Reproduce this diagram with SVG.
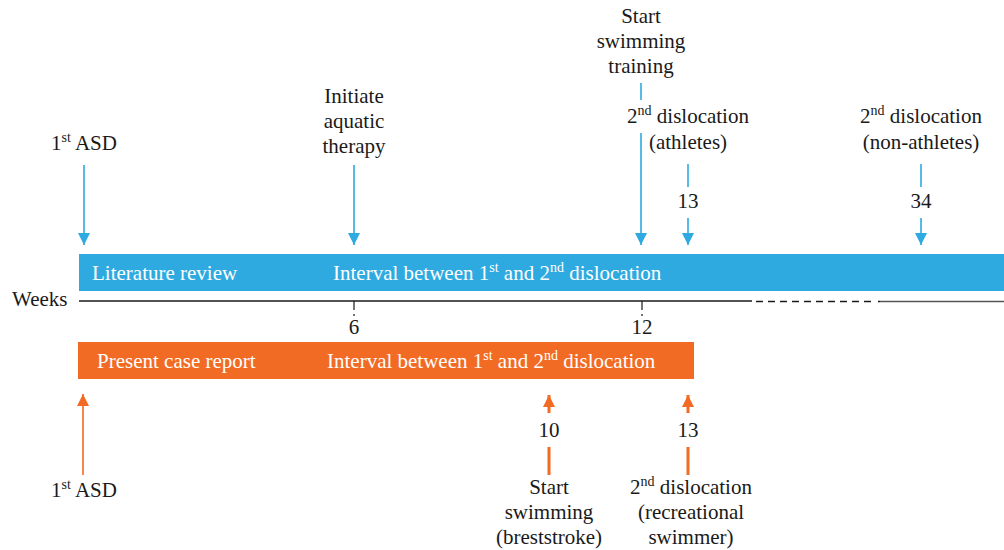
<svg xmlns="http://www.w3.org/2000/svg" width="1004" height="550" viewBox="0 0 1004 550">
<style>
text{font-family:"Liberation Serif","Times New Roman",serif;font-size:21px;fill:#1a1a1a}
.c{text-anchor:middle}
.w{fill:#ffffff}
.sup{font-size:14px}
.bl{stroke:#2eaae0;stroke-width:1.6;fill:none}
.or{stroke:#f26b24;stroke-width:1.6;fill:none}
.orT{stroke:#f26b24;stroke-width:3;fill:none}
</style>
<defs>
<marker id="ab" markerUnits="userSpaceOnUse" markerWidth="14" markerHeight="12" refX="12" refY="6" orient="auto" viewBox="0 0 14 12">
<path d="M0,0 L12,6 L0,12 z" fill="#2eaae0"/>
</marker>
<marker id="ao" markerUnits="userSpaceOnUse" markerWidth="14" markerHeight="12" refX="12" refY="6" orient="auto" viewBox="0 0 14 12">
<path d="M0,0 L12,6 L0,12 z" fill="#f26b24"/>
</marker>
</defs>

<g id="bar-literature">
<rect x="79" y="254" width="925" height="37" fill="#2eaae0"/>
<text x="92" y="280" class="w">Literature review</text>
<text x="333" y="280" class="w">Interval between 1<tspan class="sup" dy="-8">st</tspan><tspan dy="8"> and 2</tspan><tspan class="sup" dy="-8">nd</tspan><tspan dy="8"> dislocation</tspan></text>
</g>

<g id="bar-case">
<rect x="78" y="342" width="616" height="37" fill="#f26b24"/>
<text x="97" y="368" class="w">Present case report</text>
<text x="327" y="368" class="w">Interval between 1<tspan class="sup" dy="-8">st</tspan><tspan dy="8"> and 2</tspan><tspan class="sup" dy="-8">nd</tspan><tspan dy="8"> dislocation</tspan></text>
</g>

<g id="axis">
<text x="12" y="306">Weeks</text>
<line x1="79" y1="301" x2="752" y2="301" stroke="#1a1a1a" stroke-width="1.5"/>
<line x1="756" y1="301.5" x2="874" y2="301.5" stroke="#1a1a1a" stroke-width="1.5" stroke-dasharray="7,5"/>
<line x1="878" y1="301.5" x2="880" y2="301.5" stroke="#1a1a1a" stroke-width="1.5"/>
<line x1="880" y1="301.5" x2="1004" y2="301.5" stroke="#555" stroke-width="1.5"/>
<line x1="354" y1="301" x2="354" y2="310" stroke="#1a1a1a" stroke-width="1.2"/>
<line x1="354" y1="314" x2="354" y2="316" stroke="#1a1a1a" stroke-width="1.2"/>
<line x1="642" y1="301" x2="642" y2="310" stroke="#1a1a1a" stroke-width="1.2"/>
<line x1="642" y1="314" x2="642" y2="316" stroke="#1a1a1a" stroke-width="1.2"/>
<text x="354" y="334" class="c">6</text>
<text x="642" y="334" class="c">12</text>
</g>

<g id="top-1st-asd">
<text x="84" y="150" class="c">1<tspan class="sup" dy="-8">st</tspan><tspan dy="8"> ASD</tspan></text>
</g>
<g id="top-aquatic">
<text x="354" y="103" class="c">Initiate</text>
<text x="354" y="128" class="c">aquatic</text>
<text x="354" y="153" class="c">therapy</text>
</g>
<g id="top-swim-training">
<text x="641" y="23" class="c">Start</text>
<text x="641" y="48" class="c">swimming</text>
<text x="641" y="73" class="c">training</text>
</g>
<g id="top-athletes">
<text x="688" y="123" class="c">2<tspan class="sup" dy="-8">nd</tspan><tspan dy="8"> dislocation</tspan></text>
<text x="688" y="149" class="c">(athletes)</text>
<text x="688" y="208" class="c">13</text>
</g>
<g id="top-nonathletes">
<text x="921" y="123" class="c">2<tspan class="sup" dy="-8">nd</tspan><tspan dy="8"> dislocation</tspan></text>
<text x="921" y="149" class="c">(non-athletes)</text>
<text x="921" y="208" class="c">34</text>
</g>

<g id="bottom-1st-asd">
<text x="84" y="497" class="c">1<tspan class="sup" dy="-8">st</tspan><tspan dy="8"> ASD</tspan></text>
</g>
<g id="bottom-breaststroke">
<text x="549" y="437" class="c">10</text>
<text x="549" y="494" class="c">Start</text>
<text x="549" y="519" class="c">swimming</text>
<text x="549" y="544" class="c">(breststroke)</text>
</g>
<g id="bottom-recreational">
<text x="688" y="437" class="c">13</text>
<text x="691" y="494" class="c">2<tspan class="sup" dy="-8">nd</tspan><tspan dy="8"> dislocation</tspan></text>
<text x="691" y="519" class="c">(recreational</text>
<text x="691" y="544" class="c">swimmer)</text>
</g>

<g id="connectors">
<line class="bl" x1="84" y1="165" x2="84" y2="245" marker-end="url(#ab)"/>
<line class="bl" x1="354" y1="165" x2="354" y2="245" marker-end="url(#ab)"/>
<line class="bl" x1="641" y1="83" x2="641" y2="100"/>
<line class="bl" x1="641" y1="133" x2="641" y2="245" marker-end="url(#ab)"/>
<line class="bl" x1="688" y1="164" x2="688" y2="187"/>
<line class="bl" x1="688" y1="218" x2="688" y2="245" marker-end="url(#ab)"/>
<line class="bl" x1="921" y1="164" x2="921" y2="187"/>
<line class="bl" x1="921" y1="218" x2="921" y2="245" marker-end="url(#ab)"/>
<line class="or" x1="83" y1="475" x2="83" y2="394" marker-end="url(#ao)"/>
<line class="orT" x1="549" y1="413" x2="549" y2="395" marker-end="url(#ao)"/>
<line class="orT" x1="549" y1="447" x2="549" y2="475"/>
<line class="orT" x1="688" y1="413" x2="688" y2="395" marker-end="url(#ao)"/>
<line class="orT" x1="688" y1="447" x2="688" y2="475"/>
</g>
</svg>
